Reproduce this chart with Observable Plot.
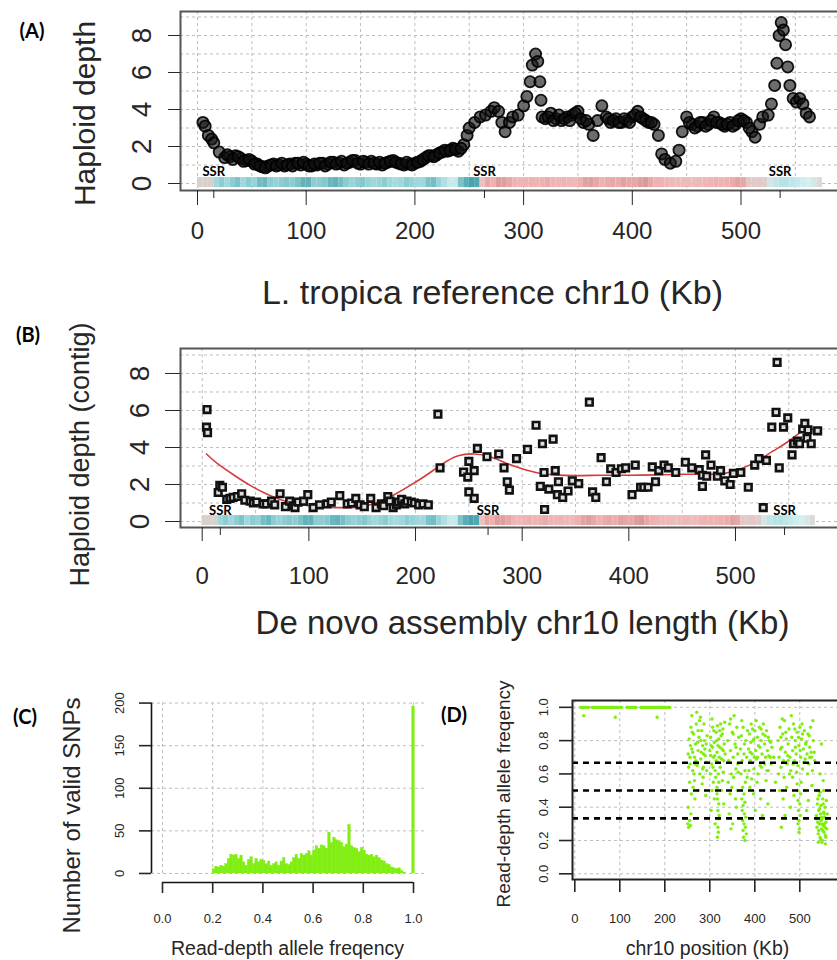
<!DOCTYPE html>
<html><head><meta charset="utf-8">
<script src="https://cdn.jsdelivr.net/npm/d3@7"></script>
<script src="https://cdn.jsdelivr.net/npm/@observablehq/plot@0.6"></script>
<style>
body{margin:0;background:#fff}
#fig{position:relative;width:837px;height:960px;overflow:hidden;background:#fff;font-family:"Liberation Sans",Arial,sans-serif}
#fig svg{position:absolute;max-width:none !important;background:transparent;overflow:visible}
.plab{position:absolute;font-family:Lato,"Open Sans",sans-serif;font-weight:bold;font-size:20px;color:#000;transform:translate(-50%,-50%);white-space:nowrap}
</style></head><body>
<div id="fig"></div>
<script>
// ---------------- Data ----------------
// (A) haploid depth along L. tropica reference chr10: [kb, depth]
const depthA = [
[5,3.3],[7,3.1],[10,2.6],[13,2.4],[15,2.2],[20,1.7],[25,1.4],[30,1.45],[35,1.5],[40,1.35],[45,1.25],[50,1.2],[55,1.05],[60,0.9],[65,0.95],[70,1.05],[75,1.0],[80,0.95],[85,1.05],[90,1.1],[95,1.0],[100,1.05],[105,0.95],[110,1.0],[115,1.1],[120,1.05],[125,1.15],[130,1.1],[135,1.0],[140,1.15],[145,1.25],[150,1.05],[155,1.15],[160,1.2],[165,1.05],[170,1.0],[175,1.15],[180,1.25],[185,1.1],[190,1.0],[195,1.05],[200,1.1],[205,1.2],[210,1.4],[215,1.5],[220,1.55],[225,1.7],[230,1.75],[235,1.9],[240,1.75],[245,2.1],[248,2.6],[250,3.0],[255,3.3],[260,3.6],[265,3.7],[270,3.9],[273,4.1],[277,3.9],[280,3.3],[283,2.8],[287,3.3],[290,3.6],[295,3.7],[300,4.2],[303,4.7],[306,5.5],[308,6.4],[311,7.0],[313,6.6],[315,5.5],[316,4.5],[317,3.6],[320,3.5],[325,3.8],[330,3.5],[335,3.4],[340,3.6],[345,3.7],[350,3.9],[355,3.3],[360,3.2],[364,2.6],[368,3.4],[372,4.2],[376,3.6],[380,3.3],[385,3.5],[390,3.3],[395,3.4],[400,3.6],[405,3.9],[410,3.5],[415,3.3],[420,3.2],[424,2.6],[427,1.6],[430,1.3],[435,1.1],[440,1.2],[443,1.8],[446,2.8],[450,3.6],[455,3.2],[460,3.1],[465,3.3],[470,3.2],[475,3.6],[480,3.3],[485,3.1],[490,3.3],[495,3.2],[500,3.5],[505,3.3],[510,2.8],[513,2.5],[517,3.2],[520,3.6],[525,3.7],[528,4.3],[531,5.3],[533,6.5],[535,8.0],[537,8.7],[539,8.3],[541,7.5],[543,6.3],[545,5.3],[548,4.6],[551,4.4],[554,4.6],[557,4.3],[560,3.8],[563,3.6],
[27.5,1.55],[32.5,1.3],[37.5,1.45],[42.5,1.2],[47.5,1.3],[52.5,1.05],[57.5,0.95],[62.5,0.85],[67.5,1.0],[72.5,0.95],[77.5,1.1],[82.5,1.0],[87.5,0.95],[92.5,1.1],[97.5,1.15],[102.5,0.95],[107.5,1.05],[112.5,1.1],[117.5,0.95],[122.5,1.15],[127.5,1.05],[132.5,1.2],[137.5,1.1],[142.5,1.25],[147.5,1.1],[152.5,1.2],[157.5,1.05],[162.5,1.1],[167.5,1.15],[172.5,1.1],[177.5,1.2],[182.5,1.15],[187.5,1.05],[192.5,1.15],[197.5,1.0],[202.5,1.15],[207.5,1.3],[212.5,1.5],[217.5,1.45],[222.5,1.65],[227.5,1.8],[232.5,1.8],[237.5,1.85],[242.5,1.9],
[322.5,3.6],[327.5,3.4],[332.5,3.7],[337.5,3.5],[342.5,3.4],[347.5,3.8],[352.5,3.5],[357.5,3.4],[378,3.5],[382.5,3.4],[387.5,3.3],[392.5,3.5],[397.5,3.3],[402.5,3.7],[407.5,3.6],[412.5,3.4],[417.5,3.3],[452.5,3.3],[457.5,3.0],[462.5,3.3],[467.5,3.1],[472.5,3.4],[477.5,3.3],[482.5,3.2],[487.5,3.2],[492.5,3.1],[497.5,3.4],[502.5,3.4],[507.5,3.0]
];

// (B) haploid depth per de novo contig: [kb, depth]
const depthB = [
[4.5,6.05],[4,5.1],[5,4.8],[15,1.57],[16.5,1.95],[19,1.85],[23,1.2],[26,1.25],[29,1.3],[33,1.35],[37,1.5],[40,1.15],[45,1.1],[48,1.0],[51,1.05],[57,0.95],[60,0.95],[65,1.1],[68,0.9],[73,1.5],[78,0.8],[82,1.1],[85,0.85],[87,0.75],[90,1.05],[95,1.1],[99,1.45],[104,0.75],[110,0.9],[117,0.95],[121,1.05],[129,1.4],[136,0.95],[140,1.0],[144,1.25],[148,0.9],[152,0.8],[158,1.25],[163,0.75],[168,0.95],[170,0.85],[174,1.35],[176,1.1],[179,0.75],[182,0.9],[184,1.05],[187,1.2],[190,0.95],[192,1.1],[196,1.05],[199,1.0],[203,0.9],[207,0.95],[212,0.9],
[221,5.8],[223,2.9],[245,2.67],[249,2.4],[250,3.25],[250,1.6],[255,2.75],[255,1.25],[258,3.95],[267,3.5],[278,3.65],[283,2.9],[286,2.15],[288,1.7],[294.7,3.4],[305,3.9],[313,5.2],[317,1.9],[319,4.2],[320.5,2.65],[321,0.65],[325,1.75],[329,4.45],[331,2.75],[333,1.45],[334,2.15],[338,1.3],[343,1.65],[347,2.2],[353,2.05],[363,6.45],[366,1.6],[369,1.3],[374,3.45],[379,2.15],[383,2.85],[388,2.65],[393,2.85],[397,2.9],[403,1.45],[406,3.05],[411,1.85],[414,1.85],[418,1.85],[422,2.95],[425,2.15],[428,2.75],[433,3.05],[437,2.9],[444,2.65],[453,3.2],[459,2.9],[466,2.8],[469,2.5],[469,1.9],[472,3.6],[473,2.45],[477,3.05],[483,2.45],[486,2.75],[490,2.2],[495,2.0],[498,2.6],[505,2.65],[512,1.85],[518,3.05],[522,3.4],[526,0.75],[529,3.3],[534,5.1],[538,5.9],[539,8.6],[541,2.9],[545,5.1],[549,5.6],[553,3.6],[554.5,4.2],[558,4.35],[560,4.2],[563,5.0],[565,5.3],[567,4.5],[568,4.95],[571,4.2],[577,4.9]
];

// (B) red smoothed trend
const trendB = [[4,3.65],[15,3.1],[30,2.5],[45,1.95],[60,1.5],[75,1.15],[90,0.95],[105,0.82],[120,0.76],[135,0.75],[150,0.8],[165,1.05],[180,1.45],[195,1.95],[210,2.5],[225,3.1],[240,3.55],[255,3.65],[270,3.5],[285,3.15],[300,2.85],[315,2.62],[330,2.52],[350,2.48],[375,2.5],[400,2.5],[425,2.52],[450,2.55],[475,2.55],[490,2.6],[505,2.85],[520,3.25],[535,3.8],[550,4.35],[565,4.95],[577,4.9]];

// colour strip (teal = < 0, grey = 0, red = > 0), 5-kb segments
const bandStart = [0,5,10,15,20,25,30,35,40,45,50,55,60,65,70,75,80,85,90,95,100,105,110,115,120,125,130,135,140,145,150,155,160,165,170,175,180,185,190,195,200,205,210,215,220,225,230,235,240,245,250,255,260,265,270,275,280,285,290,295,300,305,310,315,320,325,330,335,340,345,350,355,360,365,370,375,380,385,390,395,400,405,410,415,420,425,430,435,440,445,450,455,460,465,470,475,480,485,490,495,500,505,510,515,520,525,530,535,540,545,550,555,560,565,570];
const bandScore = [0,0,0,-0.5,-0.6,-0.5,-0.6,-0.7,-0.5,-0.6,-0.55,-0.75,-0.8,-0.6,-0.55,-0.6,-0.65,-0.6,-0.7,-0.85,-0.85,-0.6,-0.6,-0.65,-0.8,-0.85,-0.75,-0.6,-0.55,-0.6,-0.65,-0.55,-0.5,-0.55,-0.6,-0.5,-0.45,-0.5,-0.6,-0.55,-0.5,-0.5,-0.7,-0.75,-0.55,-0.4,-0.25,-0.25,-0.7,-0.9,-1,-0.95,0.3,0.7,0.6,0.8,0.8,0.7,0.55,0.5,0.55,0.6,0.55,0.6,0.65,0.55,0.5,0.55,0.5,0.45,0.6,0.75,0.8,0.7,0.6,0.65,0.7,0.65,0.75,0.7,0.7,0.8,0.85,0.7,0.6,0.55,0.5,0.45,0.4,0.4,0.45,0.4,0.45,0.5,0.55,0.6,0.55,0.6,0.65,0.75,0.7,0.15,0.1,0.2,0.05,-0.1,-0.3,-0.35,-0.35,-0.3,-0.25,-0.2,-0.15,-0.1,-0.05];
const bandWidthKb = 5;

const ssrA = [15, 264, 536];
const ssrB = [17, 268, 546];
const ssrText = "SSR";

const xTicksAB = [0, 100, 200, 300, 400, 500];
const xGridAB = [0,50,100,150,200,250,300,350,400,450,500,550,600];
const yTicksAB = [0, 2, 4, 6, 8];
const yGridAB = [0,1,2,3,4,5,6,7,8,9];

// (C) histogram of read-depth allele frequency (0.01 bins)
const freqBinStart = [0.20,0.21,0.22,0.23,0.24,0.25,0.26,0.27,0.28,0.29,0.30,0.31,0.32,0.33,0.34,0.35,0.36,0.37,0.38,0.39,0.40,0.41,0.42,0.43,0.44,0.45,0.46,0.47,0.48,0.49,0.50,0.51,0.52,0.53,0.54,0.55,0.56,0.57,0.58,0.59,0.60,0.61,0.62,0.63,0.64,0.65,0.66,0.67,0.68,0.69,0.70,0.71,0.72,0.73,0.74,0.75,0.76,0.77,0.78,0.79,0.80,0.81,0.82,0.83,0.84,0.85,0.86,0.87,0.88,0.89,0.90,0.91,0.92,0.93,0.94,0.95,0.96,0.97,0.995];
const snpCount = [5,8,7,9,8,11,17,22,21,22,17,21,13,9,16,19,11,17,13,16,15,11,14,9,11,13,9,14,18,11,10,13,18,22,17,23,21,23,26,21,27,32,29,33,32,29,48,36,42,39,38,36,31,34,57,32,30,29,25,30,27,22,21,22,19,21,18,15,14,11,10,7,6,5,6,3,1,0,196];
const binWidth = 0.01;
const xTicksC = [0, 0.2, 0.4, 0.6, 0.8, 1.0];
const yTicksC = [0, 50, 100, 150, 200];

// (D) allele frequency per SNP along chr10: [kb, freq]
const snpD = [
[13,1],[15,1],[17,1],[19,1],[21,1],[23,1],[25,1],[27,1],[29,1],[31,1],[39,1],[41,1],[43,1],[45,1],[47,1],[49,1],[51,1],[53,1],[55,1],[57,1],[59,1],[61,1],[63,1],[65,1],[67,1],[69,1],[71,1],[73,1],[75,1],[77,1],[79,1],[81,1],[83,1],[85,1],[87,1],[89,1],[91,1],[93,1],[95,1],[97,1],[99,1],[101,1],[104,1],[116,1],[118,1],[120,1],[122,1],[124,1],[126,1],[128,1],[130,1],[132,1],[134,1],[136,1],[147,1],[149,1],[151,1],[153,1],[155,1],[157,1],[159,1],[161,1],[163,1],[165,1],[167,1],[169,1],[171,1],[173,1],[175,1],[177,1],[179,1],[181,1],[183,1],[185,1],[187,1],[189,1],[191,1],[193,1],[195,1],[197,1],[199,1],[201,1],[203,1],[205,1],[207,1],[209,1],[211,1],
[20,0.95],[90,0.94],[183,0.94],
[252,0.72],[254,0.81],[256,0.66],[258,0.88],[260,0.75],[262,0.62],[264,0.84],[266,0.7],[268,0.78],[270,0.9],[272,0.65],[274,0.74],[276,0.82],[278,0.6],[280,0.69],[282,0.86],[284,0.77],[286,0.64],[288,0.8],[290,0.71],[292,0.67],[294,0.83],
[253,0.64],[257,0.77],[261,0.85],[265,0.6],[269,0.68],[273,0.79],[277,0.92],[281,0.73],[285,0.58],[289,0.75],[293,0.62],
[255,0.55],[259,0.48],[263,0.52],[267,0.45],[275,0.5],[283,0.54],[291,0.47],
[251,0.3],[253,0.28],[255,0.32],[257,0.29],[252,0.4],[258,0.36],
[260,0.95],[271,0.97],[279,0.94],[287,0.9],
[256,0.7],[262,0.73],[268,0.66],[274,0.86],[280,0.8],[286,0.72],[292,0.78],[266,0.56],[284,0.63],
[300,0.74],[302,0.82],[304,0.66],[306,0.88],[308,0.7],[310,0.79],[312,0.62],[314,0.85],[316,0.73],[318,0.67],[320,0.81],[322,0.76],[324,0.9],[326,0.69],[328,0.84],[330,0.61],[332,0.78],[334,0.72],
[301,0.6],[303,0.77],[305,0.93],[307,0.64],[309,0.86],[311,0.71],[313,0.58],[315,0.8],[317,0.89],[319,0.6],[321,0.7],[323,0.64],[325,0.83],[327,0.75],[329,0.87],[331,0.68],[333,0.91],
[316,0.52],[317,0.45],[318,0.38],[319,0.33],[318,0.28],[317,0.22],[320,0.42],[321,0.35],[319,0.25],[316,0.48],[320,0.55],
[305,0.5],[310,0.45],[326,0.5],[331,0.42],[303,0.38],[328,0.56],[312,0.3],[308,0.55],
[306,0.76],[314,0.68],[322,0.86],[330,0.74],[302,0.71],[318,0.77],
[340,0.8],[342,0.68],[344,0.9],[346,0.74],[348,0.6],[350,0.85],[352,0.7],[354,0.95],[356,0.78],[358,0.63],[360,0.88],[362,0.72],[364,0.82],
[341,0.55],[345,0.48],[349,0.52],[353,0.58],[357,0.45],[361,0.5],[363,0.61],
[343,0.36],[351,0.3],[359,0.4],[347,0.27],
[346,0.93],[352,0.84],[358,0.76],[362,0.66],
[368,0.75],[370,0.83],[372,0.68],[374,0.88],[376,0.72],[378,0.62],[380,0.8],[382,0.7],[384,0.86],
[371,0.45],[372,0.38],[373,0.32],[374,0.26],[375,0.22],[376,0.3],[377,0.36],[378,0.43],[379,0.28],[380,0.34],[381,0.24],[374,0.41],[376,0.48],[378,0.2],[373,0.52],[379,0.55],
[369,0.6],[383,0.58],[371,0.92],[377,0.78],
[386,0.75],[388,0.84],[390,0.68],[392,0.9],[394,0.72],[396,0.8],[398,0.63],[400,0.86],[402,0.74],[404,0.69],[406,0.82],[408,0.77],[410,0.88],[412,0.65],[414,0.8],[416,0.72],[418,0.84],[420,0.67],[422,0.78],[424,0.7],[426,0.86],[428,0.74],[430,0.62],[432,0.8],[434,0.7],[436,0.66],[438,0.76],
[387,0.62],[391,0.79],[395,0.87],[399,0.7],[403,0.92],[407,0.6],[411,0.76],[415,0.64],[419,0.9],[423,0.83],[427,0.62],[431,0.71],[435,0.79],
[389,0.52],[397,0.48],[405,0.55],[413,0.45],[421,0.5],[429,0.42],[401,0.38],[417,0.35],[393,0.57],[425,0.56],
[390,0.73],[398,0.81],[406,0.7],[414,0.87],[422,0.66],[430,0.82],
[442,0.7],[446,0.55],
[452,0.8],[454,0.7],[456,0.88],[458,0.64],[460,0.76],[462,0.84],[464,0.68],[466,0.92],[468,0.73],[470,0.81],[472,0.66],[474,0.78],[476,0.87],[478,0.7],[480,0.62],[482,0.82],[484,0.74],[486,0.9],[488,0.68],[490,0.8],[492,0.72],[494,0.85],[496,0.65],[498,0.77],[500,0.88],[502,0.7],[504,0.81],[506,0.63],[508,0.75],[510,0.86],[512,0.69],[514,0.79],[516,0.72],[518,0.84],[520,0.66],[522,0.76],[524,0.88],[526,0.7],[528,0.62],[530,0.8],[532,0.73],
[453,0.6],[457,0.75],[461,0.93],[465,0.58],[469,0.85],[473,0.71],[477,0.6],[481,0.95],[485,0.66],[489,0.87],[493,0.61],[497,0.82],[501,0.74],[505,0.9],[509,0.67],[513,0.78],[517,0.6],[521,0.83],[525,0.73],[529,0.92],[533,0.68],
[495,0.5],[496,0.44],[497,0.38],[498,0.32],[499,0.27],[500,0.42],[501,0.35],[502,0.48],[498,0.25],[496,0.3],[503,0.55],[494,0.54],
[455,0.5],[463,0.45],[471,0.52],[479,0.4],[487,0.47],[511,0.5],[519,0.44],[527,0.53],[467,0.35],[515,0.38],[459,0.28],
[458,0.82],[474,0.68],[490,0.76],[506,0.84],[522,0.7],[484,0.58],
[537,0.35],[538,0.28],[539,0.42],[540,0.31],[541,0.24],[542,0.38],[543,0.47],[544,0.3],[545,0.22],[546,0.36],[547,0.41],[548,0.27],[549,0.33],[550,0.2],[551,0.45],[552,0.29],[553,0.37],[554,0.25],[555,0.34],[556,0.4],[557,0.23],[558,0.31],[559,0.44],[560,0.27],[561,0.36],
[538,0.33],[540,0.45],[542,0.26],[544,0.39],[546,0.21],[548,0.34],[550,0.3],[552,0.42],[554,0.36],[556,0.28],[558,0.22],[560,0.33],[539,0.5],[545,0.49],[553,0.5],[541,0.19],[549,0.19],[557,0.18],[543,0.3],[547,0.32],[551,0.26],[555,0.3],
[545,0.6],[552,0.56],[548,0.78]
];
const ploidyFreq = [0.333, 0.5, 0.667];
const xTicksD = [0, 100, 200, 300, 400, 500];
const xGridD = [0, 100, 200, 300, 400, 500, 600];
const yTicksD = [0, 0.2, 0.4, 0.6, 0.8, 1.0];

// ---------------- Styles ----------------
const FONT = "Liberation Sans, Arial, Helvetica, sans-serif";
const gridStyle = {stroke: "#bdbdbd", strokeOpacity: 1, strokeWidth: 1, strokeDasharray: "3,3"};
const green = "#7fee10";
const colorDomain = [-1, -0.5, -0.15, 0, 0.3, 0.6, 1];
const colorRange = ["#46a2ac", "#9fd8dc", "#d6f0f2", "#d9d0cb", "#ebc2c2", "#efb0b0", "#cf8b8b"];
const titleOpts = {textAnchor: "middle", lineAnchor: "middle", fill: "#262626"};

const band = bandStart.map((s, i) => ({start: s, end: s + bandWidthKb, score: bandScore[i]}));

const fig = document.getElementById("fig");
function place(svg, left, top) {
  svg.style.position = "absolute";
  svg.style.left = left + "px";
  svg.style.top = top + "px";
  svg.style.maxWidth = "none";
  svg.style.overflow = "visible";
  fig.appendChild(svg);
}

// ---------------- Panel A ----------------
const plotA = Plot.plot({
  width: 900, height: 310,
  marginLeft: 180, marginRight: 40, marginTop: 11, marginBottom: 120,
  x: {domain: [-15.64, 609.94]},
  y: {domain: [-0.378, 9.297]},
  color: {type: "linear", domain: colorDomain, range: colorRange},
  style: {fontFamily: FONT, color: "#262626", background: "transparent", overflow: "visible"},
  marks: [
    Plot.gridX(xGridAB, gridStyle),
    Plot.gridY(yGridAB, gridStyle),
    Plot.rect(band, {x1: "start", x2: "end", y1: -0.22, y2: 0.32, fill: "score"}),
    Plot.dot(depthA, {x: d => d[0], y: d => d[1], r: 5.6, stroke: "#000", strokeOpacity: 0.9, strokeWidth: 1.8, fill: "#111", fillOpacity: 0.62}),
    Plot.text(ssrA, {x: d => d, y: 0.62, text: () => ssrText, fontWeight: "bold", fontSize: 13, fontFamily: "Lato, Open Sans, sans-serif", fill: "#000"}),
    Plot.frame({stroke: "#555", strokeWidth: 2}),
    Plot.axisX(xTicksAB, {tickSize: 15, tickPadding: 16, fontSize: 24, label: null}),
    Plot.axisX(ssrA, {tickSize: 8, tickFormat: () => "", label: null}),
    Plot.axisY(yTicksAB, {tickSize: 12, tickRotate: -90, tickPadding: 18, fontSize: 28, label: null}),
    Plot.text(["L. tropica reference chr10 (Kb)"], {frameAnchor: "bottom", dx: -28, dy: 103, fontSize: 34, ...titleOpts}),
    Plot.text(["Haploid depth"], {frameAnchor: "left", dx: -95, dy: 12.5, rotate: -90, fontSize: 30, ...titleOpts})
  ]
});
place(plotA, 0, 0);

// ---------------- Panel B ----------------
const plotB = Plot.plot({
  width: 900, height: 320,
  marginLeft: 180, marginRight: 40, marginTop: 28, marginBottom: 113,
  x: {domain: [-20.35, 617.2]},
  y: {domain: [-0.324, 9.35]},
  color: {type: "linear", domain: colorDomain, range: colorRange},
  style: {fontFamily: FONT, color: "#262626", background: "transparent", overflow: "visible"},
  marks: [
    Plot.gridX(xGridAB, gridStyle),
    Plot.gridY(yGridAB, gridStyle),
    Plot.rect(band, {x1: "start", x2: "end", y1: -0.22, y2: 0.32, fill: "score"}),
    Plot.line(trendB, {x: d => d[0], y: d => d[1], curve: "natural", stroke: "#d63c3c", strokeWidth: 1.6}),
    Plot.dot(depthB, {x: d => d[0], y: d => d[1], symbol: "square", r: 3.7, stroke: "#111", strokeWidth: 2.6, fill: "#ddd"}),
    Plot.text(ssrB, {x: d => d, y: 0.6, text: () => ssrText, fontWeight: "bold", fontSize: 13, fontFamily: "Lato, Open Sans, sans-serif", fill: "#000"}),
    Plot.frame({stroke: "#555", strokeWidth: 2}),
    Plot.axisX(xTicksAB, {tickSize: 14, tickPadding: 25, fontSize: 24, label: null}),
    Plot.axisX(ssrB, {tickSize: 8, tickFormat: () => "", label: null}),
    Plot.axisY(yTicksAB, {tickSize: 15, tickRotate: -90, tickPadding: 17, fontSize: 28, label: null}),
    Plot.text(["De novo assembly chr10 length (Kb)"], {frameAnchor: "bottom", dx: 2, dy: 96, fontSize: 33, ...titleOpts}),
    Plot.text(["Haploid depth (contig)"], {frameAnchor: "left", dx: -100, dy: 16.5, rotate: -90, fontSize: 27, ...titleOpts})
  ]
});
place(plotB, 0, 320);

// ---------------- Panel C ----------------
const bins = freqBinStart.map((s, i) => ({x0: s, x1: s + binWidth, count: snpCount[i]}));
const yMinC = -10.6;
const xMinC = -0.0438;
const plotC = Plot.plot({
  width: 440, height: 320,
  marginLeft: 151, marginRight: 16, marginTop: 56, marginBottom: 78,
  x: {domain: [xMinC, 1.0438]},
  y: {domain: [yMinC, 207.7]},
  style: {fontFamily: FONT, color: "#262626", background: "transparent", overflow: "visible"},
  marks: [
    Plot.ruleX(xTicksC, {y1: d3.min(yTicksC), y2: d3.max(yTicksC), ...gridStyle}),
    Plot.gridY(yTicksC, gridStyle),
    Plot.rectY(bins, {x1: "x0", x2: "x1", y: "count", fill: green, stroke: green, strokeWidth: 0.4}),
    Plot.ruleY([yMinC], {x1: d3.min(xTicksC), x2: d3.max(xTicksC), stroke: "#111", strokeWidth: 1.6}),
    Plot.ruleX([xMinC], {y1: d3.min(yTicksC), y2: d3.max(yTicksC), stroke: "#111", strokeWidth: 1.6}),
    Plot.axisX(xTicksC, {tickSize: 11, tickPadding: 20, fontSize: 13, tickFormat: d3.format(".1f"), label: null, strokeWidth: 1.6}),
    Plot.axisY(yTicksC, {tickSize: 12, tickRotate: -90, tickPadding: 16, fontSize: 13, label: null, strokeWidth: 1.6}),
    Plot.text(["Read-depth allele freqency"], {frameAnchor: "bottom", dx: -0.5, dy: 66, fontSize: 19.5, ...titleOpts}),
    Plot.text(["Number of valid SNPs"], {frameAnchor: "left", dx: -79, dy: 26, rotate: -90, fontSize: 24, ...titleOpts})
  ]
});
place(plotC, 0, 640);

// ---------------- Panel D ----------------
const plotD = Plot.plot({
  width: 460, height: 320,
  marginLeft: 132, marginRight: 20, marginTop: 60, marginBottom: 81,
  x: {domain: [-5.11, 679.3]},
  y: {domain: [-0.0342, 1.041]},
  style: {fontFamily: FONT, color: "#262626", background: "transparent", overflow: "visible"},
  marks: [
    Plot.gridX(xGridD, gridStyle),
    Plot.gridY(yTicksD, gridStyle),
    Plot.dot(snpD, {x: d => d[0], y: d => d[1], r: 1.7, fill: green, stroke: "none"}),
    Plot.ruleY(ploidyFreq, {stroke: "#000", strokeWidth: 2.6, strokeDasharray: "6,5"}),
    Plot.frame({stroke: "#222", strokeWidth: 2}),
    Plot.axisX(xTicksD, {tickSize: 13, tickPadding: 21, fontSize: 13, label: null, strokeWidth: 1.6}),
    Plot.axisY(yTicksD, {tickSize: 13, tickRotate: -90, tickPadding: 12, fontSize: 13, tickFormat: d3.format(".1f"), label: null, strokeWidth: 1.6}),
    Plot.text(["chr10 position (Kb)"], {frameAnchor: "bottom", dx: -19, dy: 69, fontSize: 19.5, ...titleOpts}),
    Plot.text(["Read-depth allele freqency"], {frameAnchor: "left", dx: -69, dy: 4, rotate: -90, fontSize: 19, ...titleOpts})
  ]
});
place(plotD, 440, 640);

// ---------------- Panel letters ----------------
[["(A)", 32, 30], ["(B)", 28, 334], ["(C)", 25, 716], ["(D)", 454, 714]].forEach(([t, x, y]) => {
  const d = document.createElement("div");
  d.className = "plab";
  d.textContent = t;
  d.style.left = x + "px";
  d.style.top = y + "px";
  fig.appendChild(d);
});
</script>
</body></html>
